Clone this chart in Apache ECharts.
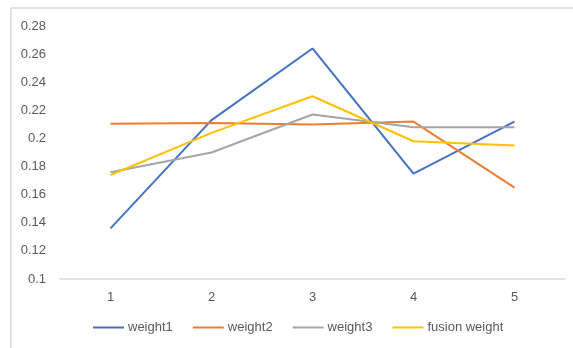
<!DOCTYPE html>
<html>
<head>
<meta charset="utf-8">
<script src="https://cdn.jsdelivr.net/npm/echarts@6/dist/echarts.min.js"></script>
<style>
  html, body { margin: 0; padding: 0; background: #fff; }
  #chart { width: 573px; height: 348px; }
</style>
</head>
<body>
<div id="chart"></div>
<script>
// Category positions along the x axis
const categories = ['1', '2', '3', '4', '5'];

// Weight values per series
const weight1 = [0.136, 0.213, 0.264, 0.175, 0.212];
const weight2 = [0.2105, 0.211, 0.210, 0.212, 0.165];
const weight3 = [0.176, 0.190, 0.217, 0.208, 0.208];
const fusionWeight = [0.174, 0.204, 0.230, 0.198, 0.195];

const seriesNames = ['weight1', 'weight2', 'weight3', 'fusion weight'];
const seriesColors = ['#4472C4', '#ED7D31', '#A5A5A5', '#FFC000'];
const seriesData = [weight1, weight2, weight3, fusionWeight];

const textColor = '#595959';
const fontFamily = '"Liberation Sans", "DejaVu Sans", sans-serif';

const chart = echarts.init(document.getElementById('chart'), null, { renderer: 'canvas' });

chart.setOption({
  animation: false,
  backgroundColor: '#fff',
  graphic: [
    // light frame along the top and left edges
    { type: 'line', shape: { x1: 11, y1: 8, x2: 573, y2: 8 }, style: { stroke: '#d9d9d9', lineWidth: 1.5 } },
    { type: 'line', shape: { x1: 11, y1: 8, x2: 11, y2: 348 }, style: { stroke: '#d9d9d9', lineWidth: 1.5 } }
  ],
  grid: { left: 60, right: 8, top: 26, bottom: 69, containLabel: false },
  legend: {
    data: seriesNames,
    bottom: 9,
    left: 88,
    icon: 'rect',
    itemWidth: 31,
    itemHeight: 2,
    itemGap: 20,
    textStyle: { color: textColor, fontSize: 13, fontFamily: fontFamily, padding: [0, 0, 0, -1] }
  },
  xAxis: {
    type: 'category',
    data: categories,
    boundaryGap: true,
    axisLine: { lineStyle: { color: '#d9d9d9', width: 1.5 } },
    axisTick: { show: false },
    axisLabel: { color: textColor, fontSize: 13, fontFamily: fontFamily, margin: 12 }
  },
  yAxis: {
    type: 'value',
    min: 0.1,
    max: 0.28,
    interval: 0.02,
    axisLine: { show: false },
    axisTick: { show: false },
    splitLine: { show: false },
    axisLabel: {
      color: textColor, fontSize: 13, fontFamily: fontFamily, margin: 14,
      formatter: v => String(Math.round(v * 100) / 100)
    }
  },
  series: seriesData.map((d, i) => ({
    name: seriesNames[i],
    type: 'line',
    data: d,
    symbol: 'none',
    showSymbol: false,
    color: seriesColors[i],
    lineStyle: { color: seriesColors[i], width: 2 },
    itemStyle: { color: seriesColors[i] }
  }))
});
</script>
</body>
</html>
